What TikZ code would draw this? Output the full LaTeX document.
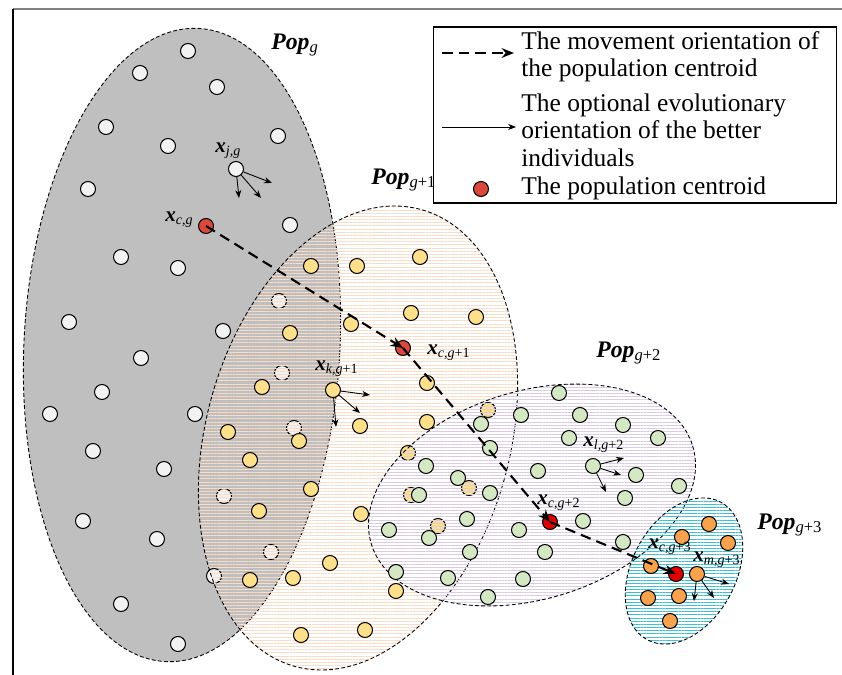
\documentclass[tikz,border=0pt]{standalone}
\usepackage{fontspec}
\setmainfont{Liberation Serif}
\usetikzlibrary{arrows.meta,patterns.meta}

\definecolor{popgray}{HTML}{BFBFBF}
\definecolor{peachline}{HTML}{FADCC6}
\definecolor{lilacline}{HTML}{D8CBE5}
\definecolor{cyanline}{HTML}{3CBFD6}
\definecolor{indwhite}{HTML}{F2F2F2}
\definecolor{indyellow}{HTML}{FFE08A}
\definecolor{indgreen}{HTML}{D5E8C4}
\definecolor{indorange}{HTML}{F8A24E}
\definecolor{cenred}{HTML}{D9483B}
\definecolor{brightred}{HTML}{E00000}

\newcommand{\poplabel}[1]{\textbf{\textit{Pop}}\textsubscript{#1}}
\newcommand{\indlabel}[1]{\textbf{\textit{x}}\textsubscript{#1}}

\begin{document}
\begin{tikzpicture}[x=0.02cm, y=-0.02cm]
	\tikzstyle{popzone} = [draw=black, line width=0.5pt, dash pattern=on 2.2pt off 1.3pt]
	\tikzstyle{stripes} = [popzone, pattern={Lines[distance=1.8pt, line width=0.5pt]}]
	\tikzstyle{ind} = [circle, draw=black, line width=0.6pt, inner sep=0pt, minimum size=0.3cm]
	\tikzstyle{wind} = [ind, fill=indwhite]
	\tikzstyle{yind} = [ind, fill=indyellow]
	\tikzstyle{gind} = [ind, fill=indgreen]
	\tikzstyle{oind} = [ind, fill=indorange]
	\tikzstyle{centroid} = [ind, fill=cenred]
	\tikzstyle{centarrow} = [line width=1.2pt, dash pattern=on 6pt off 3.5pt, -{Stealth[length=7pt, width=5.5pt]}]
	\tikzstyle{evo} = [line width=0.5pt, -{Stealth[length=4.5pt, width=3.5pt]}]
	\tikzstyle{xlbl} = [inner sep=0pt, anchor=west, font=\fontsize{12}{13}\selectfont]
	\tikzstyle{poplbl} = [inner sep=0pt, anchor=west, font=\fontsize{13.5}{14}\selectfont]
	\tikzstyle{legtxt} = [inner sep=0pt, anchor=west, align=left, font=\fontsize{14.5}{15.6}\selectfont]

	\useasboundingbox (0,0) rectangle (842,675);
	\draw[gray, line width=0.6pt] (13,9) -- (842,9);
	\draw[line width=0.8pt] (13,9) -- (13,675);

	% Pop_g
	\draw[popzone, fill=popgray, rotate around={-3:(182,345)}] (182,345) ellipse [x radius=158, y radius=317];
	\foreach \p [count=\i] in {(188,51),(140,73),(217,87),(106,127),(168,146),(278,136),(88,189),(290,225),(121,257),(178,268),(69,322),(223,331),(141,358),(102,392),(50,414),(195,414),(93,451),(164,469),(83,521),(157,539),(121,604),(178,644),(279,301),(282,373),(294,428),(224,496),(271,552),(214,576)}
		\node[wind] (w\i) at \p {};
	\node[wind] (xj) at (236,169) {};

	% Pop_g+1
	\draw[stripes, pattern color=peachline, rotate around={-15.5:(358,438)}] (358,438) ellipse [x radius=152, y radius=237];
	\foreach \p [count=\i] in {(311,266),(357,266),(420,257),(290,333),(351,324),(411,313),(476,317),(262,387),(427,383),(228,432),(299,441),(360,426),(427,422),(250,460),(408,453),(311,489),(259,511),(361,514),(330,563),(250,580),(293,578),(396,591),(301,635),(365,630),(488,410),(469,488),(411,495),(438,526)}
		\node[yind] (y\i) at \p {};
	\node[yind] (xk) at (333,390) {};

	% Pop_g+2
	\draw[stripes, pattern color=lilacline, rotate around={17:(532,495)}] (532,495) ellipse [x radius=168, y radius=104];
	\foreach \p [count=\i] in {(559,393),(521,415),(580,415),(623,425),(569,438),(658,438),(481,424),(490,448),(426,466),(538,471),(636,475),(458,478),(490,493),(419,495),(625,498),(679,486),(467,519),(583,521),(389,530),(429,538),(519,530),(470,552),(545,552),(623,542),(396,572),(448,578),(523,579),(488,597)}
		\node[gind] (g\i) at \p {};
	\node[gind] (xl) at (593,466) {};

	% Pop_g+3
	\draw[stripes, pattern color=cyanline, rotate around={-28:(684,571)}] (684,571) ellipse [x radius=52, y radius=78];
	\foreach \p [count=\i] in {(709,524),(682,537),(728,543),(651,566),(648,598),(679,596),(670,621)}
		\node[oind] (o\i) at \p {};
	\node[oind] (xm) at (697,574) {};

	% centroids
	\node[centroid] (cg) at (206,226) {};
	\node[centroid] (cg1) at (403,348) {};
	\node[centroid, fill=brightred] (cg2) at (550,522) {};
	\node[centroid, fill=brightred] (cg3) at (676,574) {};
	\draw[centarrow] (cg.center) -- (cg1.center);
	\draw[centarrow] (cg1.center) -- (cg2.center);
	\draw[centarrow] (cg2.center) -- (cg3.center);

	\foreach \s/\dx/\dy [count=\i] in {xj/36/14, xj/25/29, xj/3/29, xk/37/5, xk/27/23, xk/3/37, xl/31/-8, xl/28/9, xl/13/26, xm/32/10, xm/17/24, xm/-3/27}
	{
		\path (\s) ++(\dx,\dy) coordinate (tip\i);
		\draw[evo] (\s) -- (tip\i);
	}

	\node[poplbl] (popg) at (271,45) {\poplabel{\textit{g}}};
	\node[poplbl] (popg1) at (371,180) {\poplabel{\textit{g}+1}};
	\node[poplbl] (popg2) at (596,353) {\poplabel{\textit{g}+2}};
	\node[poplbl] (popg3) at (757,525) {\poplabel{\textit{g}+3}};

	\node[xlbl] (lj) at (215,151) {\indlabel{\textit{j,g}}};
	\node[xlbl] (lc) at (165,220) {\indlabel{\textit{c,g}}};
	\node[xlbl] (lc1) at (427,353) {\indlabel{\textit{c,g}+1}};
	\node[xlbl] (lk) at (315,369) {\indlabel{\textit{k,g}+1}};
	\node[xlbl] (ll) at (583,445) {\indlabel{\textit{l,g}+2}};
	\node[xlbl] (lc2) at (537,503) {\indlabel{\textit{c,g}+2}};
	\node[xlbl] (lc3) at (648,547) {\indlabel{\textit{c,g}+3}};
	\node[xlbl] (lm) at (693,560) {\indlabel{\textit{m,g}+3}};

	% legend
	\node[draw=black, fill=white, line width=0.6pt, inner sep=0pt, minimum width=8.08cm, minimum height=3.52cm] (legend) at (635,115) {};
	\coordinate (la1) at (442,53);
	\coordinate (lb1) at (514,53);
	\coordinate (la2) at (442,127);
	\coordinate (lb2) at (516,127);
	\draw[centarrow] (la1) -- (lb1);
	\draw[evo] (la2) -- (lb2);
	\node[centroid] (lcen) at (481,189) {};
	\node[legtxt] (t1) at (521,57) {The movement orientation of\\the population centroid};
	\node[legtxt] (t2) at (521,130) {The optional evolutionary\\orientation of the better\\individuals};
	\node[legtxt] (t3) at (521,188) {The population centroid};
\end{tikzpicture}
\end{document}
